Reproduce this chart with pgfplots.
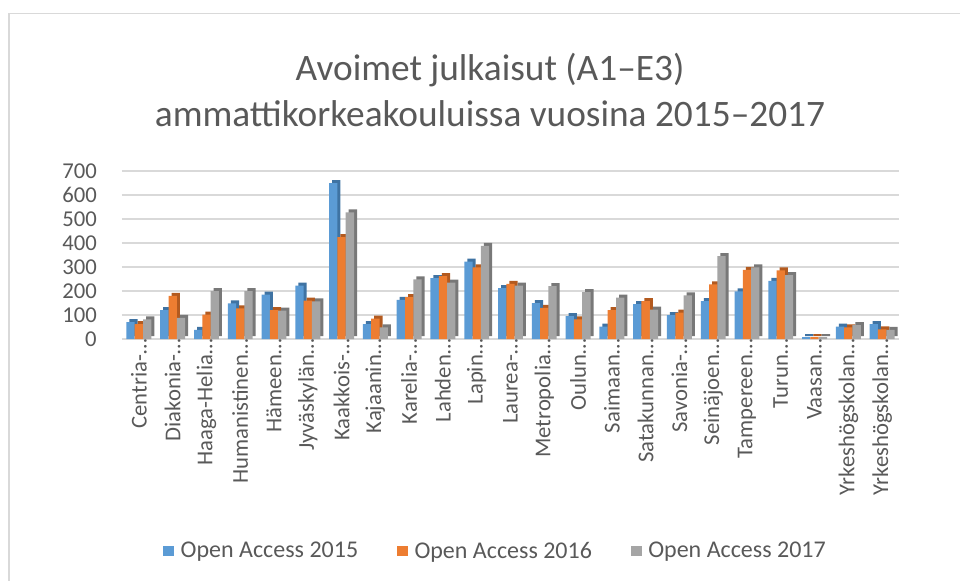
\documentclass[border=0pt]{standalone}
\usepackage{pgfplots}
\usepackage{pgfplotstable}
\pgfplotsset{compat=1.18}
\usepackage{fontspec}
\setmainfont{Carlito}
\definecolor{txt}{HTML}{595959}
\definecolor{gridc}{HTML}{D9D9D9}
\definecolor{cA}{HTML}{5B9BD5}
\definecolor{cB}{HTML}{ED7D31}
\definecolor{cC}{HTML}{A5A5A5}
\definecolor{dA}{HTML}{3F73A3}
\definecolor{dB}{HTML}{B35A1F}
\definecolor{dC}{HTML}{787878}
\pgfplotstableread{
x a b c
0 70 62 82
1 120 180 88
2 38 102 200
3 148 128 200
4 185 120 118
5 222 160 157
6 650 425 528
7 62 85 48
8 163 175 248
9 254 262 235
10 322 298 388
11 212 230 222
12 150 130 220
13 95 82 195
14 52 120 172
15 145 158 122
16 100 110 182
17 158 228 345
18 198 288 298
19 242 286 266
20 8 8 8
21 52 48 58
22 62 40 38
}\datatable
\begin{document}
\begin{tikzpicture}
\useasboundingbox (0pt,0pt) rectangle (720pt,-435.75pt);
\draw[gridc, line width=1.2pt] (6.75pt,-450pt) -- (6.75pt,-10.125pt) -- (735pt,-10.125pt);
\node[anchor=base, text=txt, font=\fontsize{28}{34}\selectfont] at (367.5pt,-60.75pt) {Avoimet julkaisut (A1–E3)};
\node[anchor=base, text=txt, font=\fontsize{28}{34}\selectfont] at (367.5pt,-95.25pt) {ammattikorkeakouluissa vuosina 2015–2017};
\begin{axis}[
  at={(91.5pt,-254.25pt)}, anchor=south west,
  scale only axis, width=582.75pt, height=126pt,
  xmin=-0.5, xmax=22.5, ymin=0, ymax=700,
  ybar, bar width=6.225pt,
  axis line style={draw=none},
  major tick length=0pt,
  ytick={0,100,...,700},
  xmajorgrids=false, ymajorgrids=true, grid style={gridc, line width=1.2pt},
  xtick={0,...,22},
  xticklabels={Centria-…,Diakonia-…,Haaga-Helia…,Humanistinen…,Hämeen…,Jyväskylän…,Kaakkois-…,Kajaanin…,Karelia-…,Lahden…,Lapin…,Laurea-…,Metropolia…,Oulun…,Saimaan…,Satakunnan…,Savonia-…,Seinäjoen…,Tampereen…,Turun…,Vaasan…,Yrkeshögskolan…,Yrkeshögskolan…},
  xticklabel style={rotate=90, anchor=east, text=txt, font=\fontsize{17}{20}\selectfont, inner sep=0pt, yshift=0pt},
  yticklabel style={anchor=east, text=txt, font=\fontsize{17}{20}\selectfont, inner sep=0pt, xshift=-18.75pt},
  /pgf/number format/assume math mode=true,
  clip=false,
  legend columns=3,
  legend style={at={(0.481,-1.262)}, anchor=center, draw=none, fill=none,
    font=\fontsize{18}{21}\selectfont, text=txt,
    /tikz/every odd column/.append style={column sep=3pt},
    /tikz/every even column/.append style={column sep=27pt}},
  legend image code/.code={\fill[#1] (0pt,-4.1pt) rectangle (8.25pt,4.1pt);},
]
\addplot[fill=dA, draw=none, bar shift=-6.225pt, xshift=2.25pt, yshift=2.25pt, forget plot] table[x=x,y=a] {\datatable};
\addplot[fill=cA, draw=none, bar shift=-6.225pt] table[x=x,y=a] {\datatable};
\addplot[fill=dB, draw=none, bar shift=0pt, xshift=2.25pt, yshift=2.25pt, forget plot] table[x=x,y=b] {\datatable};
\addplot[fill=cB, draw=none, bar shift=0pt] table[x=x,y=b] {\datatable};
\addplot[fill=dC, draw=none, bar shift=6.225pt, xshift=2.25pt, yshift=2.25pt, forget plot] table[x=x,y=c] {\datatable};
\addplot[fill=cC, draw=none, bar shift=6.225pt] table[x=x,y=c] {\datatable};
\legend{Open Access 2015, Open Access 2016, Open Access 2017}
\end{axis}
\end{tikzpicture}
\end{document}
